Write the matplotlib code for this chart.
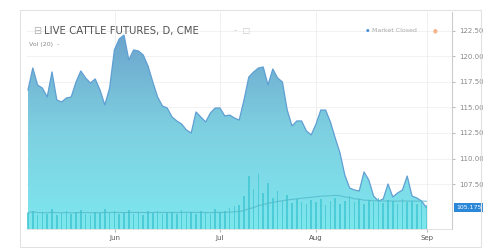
import numpy as np
import pandas as pd
import matplotlib
matplotlib.use("Agg")
import matplotlib.pyplot as plt
from matplotlib.patches import Rectangle

# Live cattle futures, daily closes (trading days, early May -> Sep 1)
price = [116.72, 118.87, 117.20, 116.90, 116.03, 118.48, 115.74, 115.54, 115.93, 116.03,
         117.50, 118.58, 117.89, 117.40, 117.80, 116.72, 115.25, 116.90, 120.64, 121.72,
         122.10, 119.66, 120.64, 120.54, 120.15, 119.07, 117.50, 116.03, 115.15, 114.95,
         114.07, 113.68, 113.38, 112.80, 112.50, 114.56, 114.07, 113.58, 114.46, 114.95,
         114.95, 114.17, 114.26, 113.97, 113.77, 115.74, 117.99, 118.48, 118.87, 118.97,
         117.21, 118.77, 117.89, 117.50, 114.75, 113.19, 113.68, 113.68, 112.70, 112.31,
         113.38, 114.75, 114.75, 113.58, 112.01, 110.54, 108.38, 107.11, 106.91, 106.81,
         108.68, 107.89, 106.32, 105.83, 106.03, 107.50, 106.23, 106.62, 106.91, 108.28,
         106.32, 106.13, 105.83, 105.175]

# volume (thousands of contracts)
vol = [30, 34, 26, 31, 28, 36, 25, 29, 33, 27, 31, 35, 28, 26, 32, 30, 37, 29, 33, 27,
       30, 35, 28, 31, 26, 33, 29, 34, 27, 30, 32, 28, 35, 29, 31, 27, 33, 30, 28, 36,
       31, 34, 38, 42, 45, 60, 98, 74, 102, 66, 85, 58, 70, 52, 62, 48, 55, 50, 47, 53,
       49, 56, 45, 51, 58, 47, 52, 60, 49, 55, 46, 53, 50, 57, 48, 54, 51, 46, 55, 49,
       52, 47, 50, 44]

months = ["Jun", "Jul", "Aug", "Sep"]
month_idx = [18.1, 40, 60, 83.1]
price_ticks = [107.5, 110.0, 112.5, 115.0, 117.5, 120.0, 122.5]

x = np.arange(len(price))
vol_ma = pd.Series(vol).rolling(20, min_periods=1).mean()

fig = plt.figure(figsize=(4.83, 2.48), dpi=100)
fig.patch.set_facecolor("white")

# outer widget frame
fig.patches.append(Rectangle((20 / 483, 0.005), 0.995 - 20 / 483, (248 - 10) / 248 - 0.005,
                             transform=fig.transFigure, fill=False,
                             edgecolor="#e2e2e2", lw=0.8))

ax = fig.add_axes([27 / 483, 19 / 248, (452 - 27) / 483, (229 - 12) / 248])
ymin, ymax = 103.09, 124.36
xmin, xmax = -0.21, 88.33
ax.set_xlim(xmin, xmax)
ax.set_ylim(ymin, ymax)

# grid
for t in price_ticks:
    ax.axhline(t, color="#f0f0f0", lw=0.6, zorder=0)
for m in month_idx:
    ax.axvline(m, color="#ececec", lw=0.6, zorder=0)

# gradient area under price
poly = ax.fill_between(x, price, ymin, color="none", lw=0)
grad = np.linspace(0, 1, 256).reshape(-1, 1)
cmap = matplotlib.colors.LinearSegmentedColormap.from_list(
    "cattle", ["#7ee7ee", "#7dcfe0", "#6b9fca"])
img = ax.imshow(grad, cmap=cmap, aspect="auto", origin="lower",
                extent=[xmin, xmax, ymin, 123.0], zorder=1)
img.set_clip_path(poly.get_paths()[0], transform=ax.transData)
ax.plot(x, price, color="#5f9fd3", lw=0.9, zorder=3)

# volume on an overlay axis
ax2 = ax.twinx()
ax2.set_ylim(0, 400)
ax2.bar(x, vol, width=0.3, color="#45c8d4", alpha=0.85, zorder=2)
ax2.plot(x, vol_ma, color="#52b9c9", lw=0.8, alpha=0.8)
ax2.set_yticks([])
for s in ax2.spines.values():
    s.set_visible(False)

# price axis on the right (after twinx, which moves ticks to the left)
ax.yaxis.tick_right()
ax.set_yticks(price_ticks)
ax.set_yticklabels([f"{t:.2f}" for t in price_ticks], fontsize=5, color="#888888")
ax.tick_params(axis="y", length=2, color="#bbbbbb", pad=3)
ax.set_xticks(month_idx)
ax.set_xticklabels(months, fontsize=5, color="#555555")
ax.tick_params(axis="x", length=2, color="#bbbbbb", pad=2)
for s in ["top", "left"]:
    ax.spines[s].set_visible(False)
ax.spines["right"].set_color("#cccccc")
ax.spines["bottom"].set_color("#dddddd")
ax.spines["right"].set_linewidth(0.8)
ax.spines["bottom"].set_linewidth(0.6)

# last price tag
ax.text(1.01, (price[-1] - ymin) / (ymax - ymin), f"{price[-1]:.3f}",
        transform=ax.transAxes, fontsize=4.5, color="white", va="center", ha="left",
        bbox=dict(boxstyle="square,pad=0.35", fc="#2b87d8", ec="none"), clip_on=False)

# header texts
fig.text(33 / 483, 1 - 31 / 248, "\u229f", fontsize=7, color="#b0b0b0", va="center")
fig.text(44 / 483, 1 - 31 / 248, "LIVE CATTLE FUTURES, D, CME", fontsize=7.3,
         color="#505050", va="center")
fig.text(234 / 483, 1 - 31 / 248, "-  \u25a1", fontsize=6, color="#c8c8c8", va="center")
fig.text(29 / 483, 1 - 44 / 248, "Vol (20)  -", fontsize=4.5, color="#8a8a8a", va="center")
fig.text(366 / 483, 1 - 31 / 248, "\u25cf", fontsize=3, color="#4a90d9", va="center")
fig.text(372 / 483, 1 - 31 / 248, "Market Closed", fontsize=4.5, color="#a8a8a8",
         va="center")
fig.text(433 / 483, 1 - 31 / 248, "\u25cf", fontsize=4, color="#f5b58a", va="center")

fig.savefig("out.png", dpi=100, facecolor="white")
